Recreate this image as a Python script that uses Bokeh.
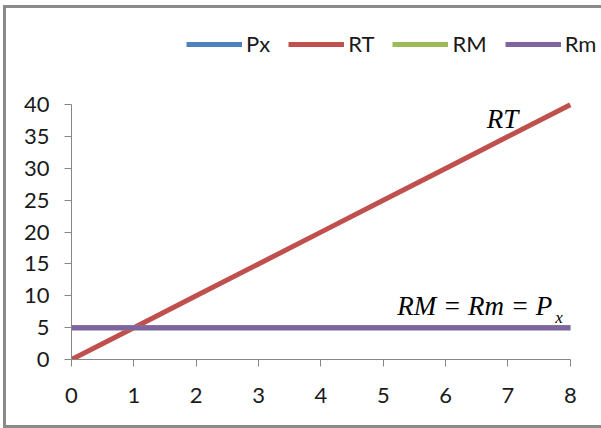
from bokeh.plotting import figure
from bokeh.models import Range1d, Legend, LegendItem, FixedTicker
from bokeh.embed import file_html
from bokeh.resources import INLINE
from bokeh.core.properties import value

# data
q = [0, 1, 2, 3, 4, 5, 6, 7, 8]
px = [5, 5, 5, 5, 5, 5, 5, 5, 5]
rt = [0, 5, 10, 15, 20, 25, 30, 35, 40]
rm = [5, 5, 5, 5, 5, 5, 5, 5, 5]
rmg = [5, 5, 5, 5, 5, 5, 5, 5, 5]
series_names = ["Px", "RT", "RM", "Rm"]
colors = ["#4F81BD", "#C0504D", "#9BBB59", "#8064A2"]
y_ticks = [0, 5, 10, 15, 20, 25, 30, 35, 40]

FONT = "Lato"
AX = "#868686"
BORDER = "3px solid #8a8a8a"

p = figure(width=595, height=417, output_backend="svg", toolbar_location=None,
           x_range=Range1d(0, 8.484), y_range=Range1d(0, 53.23),
           min_border_left=65, min_border_right=4, min_border_top=12, min_border_bottom=72)
p.styles = {"position": "absolute", "left": "3px", "top": "5px",
            "box-sizing": "content-box", "margin": "0px",
            "border-left": BORDER, "border-top": BORDER, "border-bottom": BORDER,
            "border-right": "none"}
p.outline_line_color = None
p.xgrid.visible = False
p.ygrid.visible = False
p.background_fill_color = "white"
p.border_fill_color = "white"

renderers = []
for ys, c in zip([px, rt, rm, rmg], colors):
    r = p.line(q, ys, line_color=c, line_width=5)
    renderers.append(r)

for ax in (p.xaxis[0], p.yaxis[0]):
    ax.axis_line_color = AX
    ax.major_tick_line_color = AX
    ax.minor_tick_line_color = None
    ax.major_tick_in = 0
    ax.major_tick_out = 7
    ax.major_label_text_font = FONT
    ax.major_label_text_font_size = "22px"
    ax.major_label_text_color = "#1a1a1a"
p.xaxis.ticker = FixedTicker(ticks=q)
p.yaxis.ticker = FixedTicker(ticks=y_ticks)
p.xaxis.bounds = (0, 8)
p.yaxis.bounds = (0, 40)
p.yaxis.major_label_standoff = 15
p.xaxis.major_label_standoff = 21

legend = Legend(items=[LegendItem(label=n, renderers=[r]) for n, r in zip(series_names, renderers)],
                orientation="horizontal", location=(115, 302),
                glyph_width=56, glyph_height=20, label_standoff=4, spacing=18,
                padding=2, border_line_color=None, background_fill_alpha=0,
                label_text_font=FONT, label_text_font_size="22px", label_text_color="#1a1a1a")
p.add_layout(legend)

p.text(x=[6.66], y=[37.8], text=["RT"], text_font=value("Liberation Serif"),
       text_font_style="italic", text_font_size="27px", text_color="black",
       text_baseline="alphabetic")
p.text(x=[5.226], y=[8.35], text=["RM = Rm = P"], text_font=value("Liberation Serif"),
       text_font_style="italic", text_font_size="27px", text_color="black",
       text_baseline="alphabetic")
p.text(x=[7.76], y=[6.62], text=["x"], text_font=value("Liberation Serif"),
       text_font_style="italic", text_font_size="17px", text_color="black",
       text_baseline="alphabetic")

open("out.html", "w").write(file_html(p, INLINE))
